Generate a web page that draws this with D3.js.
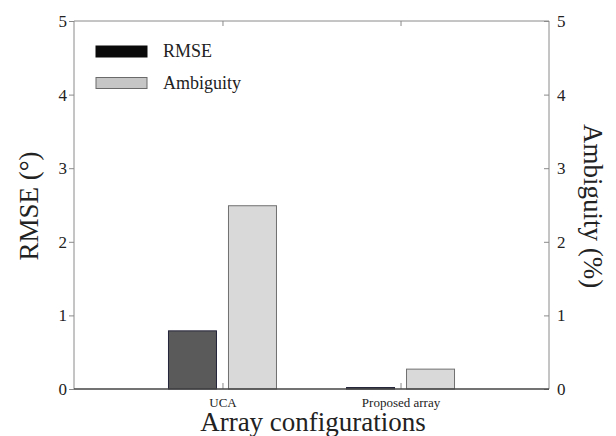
<!DOCTYPE html>
<html>
<head>
<meta charset="utf-8">
<script src="https://cdn.jsdelivr.net/npm/d3@7"></script>
<style>
  html, body { margin: 0; padding: 0; background: #fff; }
  svg { display: block; }
</style>
</head>
<body>
<svg id="chart" width="616" height="436"></svg>
<script>
// data
const categories = ['UCA', 'Proposed array'];
const series = ['RMSE', 'Ambiguity'];
const rmseValues = [0.79, 0.02];       // RMSE (deg), left axis
const ambiguityValues = [2.49, 0.27];  // Ambiguity (%), right axis
const yTicks = [0, 1, 2, 3, 4, 5];

const M = { left: 74, right: 549, top: 21, bottom: 389 };
const TXT = '#222';
const FONT = "Liberation Serif, Times New Roman, Times, DejaVu Serif, serif";

const svg = d3.select('#chart').attr('font-family', FONT);

const x = d3.scalePoint().domain(categories).range([M.left, M.right]).padding(0.834);
const xSub = d3.scaleBand().domain(series).range([-54, 54]).paddingInner(0.2);
const yL = d3.scaleLinear().domain([0, 5]).range([M.bottom, M.top]);
const yR = d3.scaleLinear().domain([0, 5]).range([M.bottom, M.top]);

const fills = { RMSE: '#5a5a5a', Ambiguity: '#d9d9d9' };
const strokes = { RMSE: '#23233a', Ambiguity: '#707070' };

// bars
const rows = categories.map((c, i) => ({ cat: c, vals: [
  { s: 'RMSE', v: rmseValues[i], y: yL },
  { s: 'Ambiguity', v: ambiguityValues[i], y: yR },
]}));

const grp = svg.selectAll('g.cat').data(rows).join('g').attr('class', 'cat')
  .attr('transform', d => `translate(${x(d.cat)},0)`);

grp.selectAll('rect').data(d => d.vals).join('rect')
  .attr('x', d => xSub(d.s))
  .attr('width', xSub.bandwidth())
  .attr('y', d => d.y(d.v))
  .attr('height', d => Math.max(1, M.bottom - d.y(d.v)))
  .attr('fill', d => fills[d.s])
  .attr('stroke', d => strokes[d.s])
  .attr('stroke-width', 1);

// axes
const styleAxis = (g, fs) => {
  g.attr('font-family', FONT).attr('font-size', fs);
  g.select('.domain').remove();
  g.selectAll('.tick line').attr('stroke', '#8a8a8a');
  g.selectAll('.tick text').attr('fill', TXT);
};

svg.append('g').attr('transform', `translate(${M.left},0)`)
  .call(d3.axisLeft(yL).tickValues(yTicks).tickFormat(d3.format('d')).tickSize(5).tickPadding(2))
  .call(g => styleAxis(g, 17));

svg.append('g').attr('transform', `translate(${M.right},0)`)
  .call(d3.axisRight(yR).tickValues(yTicks).tickFormat(d3.format('d')).tickSize(-5).tickPadding(8))
  .call(g => styleAxis(g, 17));

svg.append('g').attr('transform', `translate(0,${M.top})`)
  .call(d3.axisTop(x).tickSize(-5).tickFormat(''))
  .call(g => styleAxis(g, 13));

svg.append('g').attr('transform', `translate(0,${M.bottom})`)
  .call(d3.axisBottom(x).tickSize(-6).tickPadding(9))
  .call(g => styleAxis(g, 13));

// frame
svg.append('path')
  .attr('d', `M${M.left},${M.bottom}V${M.top}H${M.right}V${M.bottom}`)
  .attr('fill', 'none').attr('stroke', '#8a8a8a').attr('stroke-width', 1);
svg.append('line')
  .attr('x1', M.left).attr('x2', M.right).attr('y1', M.bottom).attr('y2', M.bottom)
  .attr('stroke', '#444').attr('stroke-width', 1.5);

// axis titles
const cy = (M.top + M.bottom) / 2 + 1;
svg.append('text').attr('transform', `translate(38,${cy}) rotate(-90)`)
  .attr('text-anchor', 'middle').attr('font-size', 27).attr('fill', TXT).text('RMSE (°)');
svg.append('text').attr('transform', `translate(584,${cy}) rotate(90)`)
  .attr('text-anchor', 'middle').attr('font-size', 27).attr('fill', TXT).text('Ambiguity (%)');
svg.append('text').attr('x', 313).attr('y', 431)
  .attr('text-anchor', 'middle').attr('font-size', 27).attr('fill', TXT).text('Array configurations');

// legend
const legFill = { RMSE: '#0a0a0a', Ambiguity: '#c6c6c6' };
const legStroke = { RMSE: '#0a0a0a', Ambiguity: '#6a6a6a' };
const leg = svg.append('g').selectAll('g').data(series).join('g')
  .attr('transform', (d, i) => `translate(96,${46 + i * 31.5})`);
leg.append('rect').attr('width', 51).attr('height', 11)
  .attr('fill', d => legFill[d]).attr('stroke', d => legStroke[d]);
leg.append('text').attr('x', 67).attr('y', 11).attr('font-size', 18).attr('fill', TXT).text(d => d);
</script>
</body>
</html>
